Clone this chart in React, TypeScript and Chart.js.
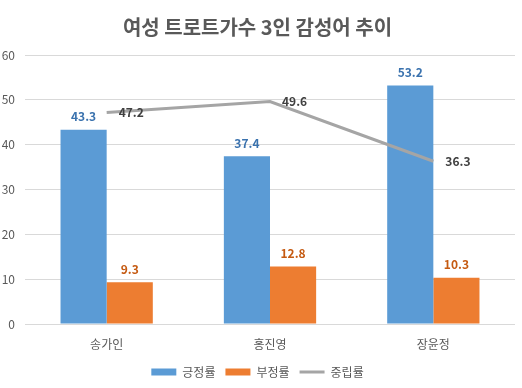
import React, { useEffect, useRef } from "react";
import { Chart, registerables } from "chart.js";

Chart.register(...registerables);

const categories = ["송가인", "홍진영", "장윤정"];
const positiveRate = [43.3, 37.4, 53.2];
const negativeRate = [9.3, 12.8, 10.3];
const neutralRate = [47.2, 49.6, 36.3];
const yTicks = [0, 10, 20, 30, 40, 50, 60];

const FONT = "'Noto Sans CJK KR', 'Noto Sans', sans-serif";

const labelPlugin = {
  id: "valueLabels",
  afterDatasetsDraw(chart: any) {
    const ctx = chart.ctx;
    ctx.save();
    ctx.font = `bold 12px ${FONT}`;
    chart.data.datasets.forEach((ds: any, i: number) => {
      const meta = chart.getDatasetMeta(i);
      meta.data.forEach((el: any, j: number) => {
        const v = ds.data[j];
        const txt = v.toFixed(1);
        if (ds.type === "line") {
          ctx.fillStyle = "#404040";
          ctx.textAlign = "left";
          ctx.textBaseline = "middle";
          ctx.fillText(txt, el.x + 12, el.y);
        } else {
          ctx.fillStyle = ds.labelColor;
          ctx.textAlign = "center";
          ctx.textBaseline = "middle";
          ctx.fillText(txt, el.x, el.y - 13);
        }
      });
    });
    ctx.restore();
  },
};

export default function App() {
  const ref = useRef<HTMLCanvasElement>(null);
  useEffect(() => {
    document.body.style.margin = "0";
    const chart = new Chart(ref.current as HTMLCanvasElement, {
      type: "bar",
      data: {
        labels: categories,
        datasets: [
          {
            type: "bar",
            label: "긍정률",
            data: positiveRate,
            backgroundColor: "#5B9BD5",
            borderWidth: 0,
            pointStyle: "rect",
            labelColor: "#3A72AE",
            order: 2,
          } as any,
          {
            type: "bar",
            label: "부정률",
            data: negativeRate,
            backgroundColor: "#ED7D31",
            borderWidth: 0,
            pointStyle: "rect",
            labelColor: "#C55A11",
            order: 2,
          } as any,
          {
            type: "line",
            label: "중립률",
            data: neutralRate,
            borderColor: "#A5A5A5",
            backgroundColor: "#A5A5A5",
            borderWidth: 3,
            pointRadius: 0,
            pointStyle: "line",
            order: 1,
          } as any,
        ],
      },
      options: {
        responsive: false,
        animation: false,
        layout: { padding: { top: 0, left: 0, right: 7, bottom: 0 } },
        datasets: {
          bar: { categoryPercentage: 0.565, barPercentage: 1 },
        },
        plugins: {
          title: {
            display: true,
            text: "여성 트로트가수 3인 감성어 추이",
            color: "#595959",
            font: { family: FONT, size: 20, weight: "bold" },
            padding: { top: 15, bottom: 16 },
          },
          legend: {
            position: "bottom",
            labels: {
              usePointStyle: true,
              pointStyleWidth: 25,
              boxWidth: 25,
              boxHeight: 7,
              color: "#595959",
              font: { family: FONT, size: 12 },
              padding: 10,
              sort: (a: any, b: any) => a.datasetIndex - b.datasetIndex,
            },
          },
          tooltip: { enabled: false },
        },
        scales: {
          x: {
            grid: { display: false, drawTicks: false },
            border: { display: false },
            ticks: { color: "#595959", font: { family: FONT, size: 12 }, padding: 13 },
            afterFit: (s: any) => {
              s.height = 32;
            },
          },
          y: {
            min: 0,
            max: 60,
            grid: { color: "#D9D9D9", drawTicks: false },
            border: { display: false },
            afterBuildTicks: (s: any) => {
              s.ticks = yTicks.map((v) => ({ value: v }));
            },
            ticks: { color: "#595959", font: { family: FONT, size: 12 }, padding: 10 },
            afterFit: (s: any) => {
              s.width = 25;
            },
          },
        },
      } as any,
      plugins: [labelPlugin],
    });
    return () => chart.destroy();
  }, []);
  return (
    <div style={{ position: "absolute", left: 0, top: 0, width: 522, height: 388, background: "#fff" }}>
      <canvas ref={ref} width={522} height={388} />
    </div>
  );
}
